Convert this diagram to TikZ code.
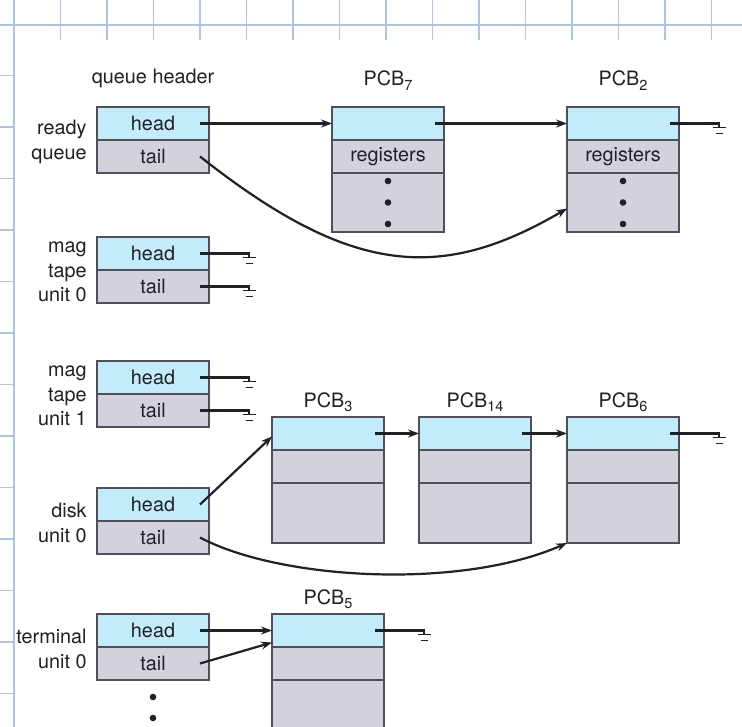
\documentclass[tikz,border=0pt]{standalone}
\usepackage{fontspec}
\setmainfont{TeX Gyre Heros}
\usetikzlibrary{arrows.meta,positioning}

\definecolor{headblue}{RGB}{194,236,250}
\definecolor{cellgray}{RGB}{211,209,218}
\definecolor{edgegray}{RGB}{80,80,92}
\definecolor{gridblue}{RGB}{176,194,230}
\definecolor{inkgray}{RGB}{32,32,38}

\newcommand{\pcbname}[1]{PCB\raisebox{-4.5pt}{\fontsize{14.5}{14.5}\selectfont #1}}
% nil pointer: line out of a cell, ending in a ground symbol
\newcommand{\nilptr}[2]{%
  \coordinate (#2) at ([xshift=40pt]#1.east);
  \draw ([xshift=-9pt]#1.east) -- (#2) -- ++(0,4);
  \draw[line width=1.8pt] ([shift={(-6.5pt,-4pt)}]#2) -- ++(13,0);
  \draw[line width=1.8pt] ([shift={(-3.5pt,-10pt)}]#2) -- ++(7,0);}

\begin{document}
\begin{tikzpicture}[x=1pt,y=-1pt,>={Stealth[length=11pt,width=8pt]},
                    line width=2.2pt,draw=inkgray,
                    every node/.style={font=\fontsize{19.8}{24.5}\selectfont,text=inkgray}]
  \tikzstyle{cell}=[draw=edgegray,line width=1.7pt,minimum width=112pt,minimum height=33pt,
                    inner sep=0pt,outer sep=0pt,anchor=north west]
  \tikzstyle{unit}=[anchor=east,align=right]

  \useasboundingbox (0,0) rectangle (742,727);
  \clip (0,0) rectangle (742,727);
  \fill[white] (0,0) rectangle (742,727);

  % background grid of the page
  \draw[gridblue,line width=2.6pt] (0,25) -- (742,25);
  \draw[gridblue,line width=1.6pt] (14,0) -- (14,727);
  \foreach \gx in {1,...,15} \draw[gridblue,line width=1.6pt] ({14+46.5*\gx},0) -- ({14+46.5*\gx},40);
  \foreach \gy in {1,...,13} \draw[gridblue,line width=1.6pt] (0,{24+51.5*\gy}) -- (14,{24+51.5*\gy});

  % queue headers
  \node[cell,fill=headblue] (rqh) at (97,107) {head};
  \node[cell,fill=cellgray,below=0pt of rqh] (rqt) {tail};
  \node[cell,fill=headblue] (m0h) at (97,237) {head};
  \node[cell,fill=cellgray,below=0pt of m0h] (m0t) {tail};
  \node[cell,fill=headblue] (m1h) at (97,361) {head};
  \node[cell,fill=cellgray,below=0pt of m1h] (m1t) {tail};
  \node[cell,fill=headblue] (dkh) at (97,488) {head};
  \node[cell,fill=cellgray,below=0pt of dkh] (dkt) {tail};
  \node[cell,fill=headblue] (tmh) at (97,614) {head};
  \node[cell,fill=cellgray,below=0pt of tmh] (tmt) {tail};

  \node at ([yshift=29pt]rqh.north) {queue header};
  \node[unit] at ([xshift=-6pt,yshift=-2pt]rqh.south west) {ready\\queue};
  \node[unit] at ([xshift=-6pt,yshift=-2pt]m0h.south west) {mag\\tape\\unit 0};
  \node[unit] at ([xshift=-6pt,yshift=-2pt]m1h.south west) {mag\\tape\\unit 1};
  \node[unit] at ([xshift=-6pt,yshift=-2pt]dkh.south west) {disk\\unit 0};
  \node[unit] at ([xshift=-6pt,yshift=-2pt]tmh.south west) {terminal\\unit 0};
  \foreach \d in {17,38} \fill[inkgray] ([yshift=-\d pt]tmt.south) circle (3.3pt);

  % PCBs of the ready queue
  \node[cell,fill=headblue] (p7a) at (332,107) {};
  \node[cell,fill=cellgray,below=0pt of p7a] (p7b) {registers};
  \node[cell,fill=cellgray,below=0pt of p7b,minimum height=59pt] (p7c) {};
  \node[cell,fill=headblue,right=123pt of p7a] (p2a) {};
  \node[cell,fill=cellgray,below=0pt of p2a] (p2b) {registers};
  \node[cell,fill=cellgray,below=0pt of p2b,minimum height=59pt] (p2c) {};
  \foreach \d in {-21.5,0,21.5} {
    \fill[inkgray] ([yshift=\d pt]p7c.center) circle (3.3pt);
    \fill[inkgray] ([yshift=\d pt]p2c.center) circle (3.3pt);}
  \node[anchor=base] at ([yshift=21pt]p7a.north) {\pcbname{7}};
  \node[anchor=base] at ([yshift=21pt]p2a.north) {\pcbname{2}};

  % PCBs of the disk queue
  \node[cell,fill=headblue] (p3a) at (272,417) {};
  \node[cell,fill=cellgray,below=0pt of p3a] (p3b) {};
  \node[cell,fill=cellgray,below=0pt of p3b,minimum height=60pt] (p3c) {};
  \node[cell,fill=headblue,right=35pt of p3a] (p14a) {};
  \node[cell,fill=cellgray,below=0pt of p14a] (p14b) {};
  \node[cell,fill=cellgray,below=0pt of p14b,minimum height=60pt] (p14c) {};
  \node[cell,fill=headblue,right=36pt of p14a] (p6a) {};
  \node[cell,fill=cellgray,below=0pt of p6a] (p6b) {};
  \node[cell,fill=cellgray,below=0pt of p6b,minimum height=60pt] (p6c) {};
  \node[anchor=base] at ([yshift=10pt]p3a.north) {\pcbname{3}};
  \node[anchor=base] at ([yshift=10pt]p14a.north) {\pcbname{14}};
  \node[anchor=base] at ([yshift=10pt]p6a.north) {\pcbname{6}};

  % PCB of the terminal queue
  \node[cell,fill=headblue] (p5a) at (272,614) {};
  \node[cell,fill=cellgray,below=0pt of p5a] (p5b) {};
  \node[cell,fill=cellgray,below=0pt of p5b,minimum height=60pt] (p5c) {};
  \node[anchor=base] at ([yshift=10pt]p5a.north) {\pcbname{5}};

  % pointers
  \path ([xshift=-9pt]rqh.east) edge[->] (p7a.west)
        ([xshift=-9pt]p7a.east) edge[->] (p2a.west)
        ([xshift=-9pt]p3a.east) edge[->] (p14a.west)
        ([xshift=-9pt]p14a.east) edge[->] (p6a.west)
        ([xshift=-9pt]dkh.east) edge[->] ([yshift=-3pt]p3a.west)
        ([xshift=-9pt]tmh.east) edge[->] (p5a.west)
        ([xshift=-9pt]tmt.east) edge[->] ([yshift=-12pt]p5a.west);
  \draw[->] ([xshift=-9pt]rqt.east) .. controls (350,275) and (440,283) .. ([yshift=-6pt]p2c.west);
  \draw[->] ([xshift=-9pt]dkt.east) .. controls (280,580) and (460,590) .. (p6c.south west);

  \nilptr{p2a}{g2}
  \nilptr{m0h}{gm0h}
  \nilptr{m0t}{gm0t}
  \nilptr{m1h}{gm1h}
  \nilptr{m1t}{gm1t}
  \nilptr{p6a}{g6}
  \nilptr{p5a}{g5}
\end{tikzpicture}
\end{document}
